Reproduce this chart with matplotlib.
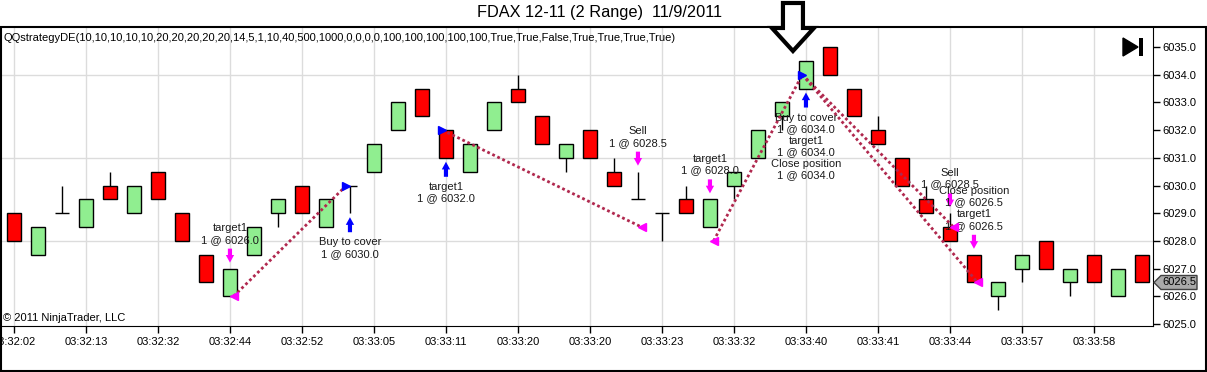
import matplotlib
matplotlib.use('Agg')
import matplotlib.pyplot as plt
from matplotlib.patches import Polygon, Rectangle
from matplotlib.transforms import offset_copy, IdentityTransform
import numpy as np

plt.rcParams['font.family'] = ['Liberation Sans', 'DejaVu Sans']

# --- data: FDAX 12-11, 2 range bars ---
opens  = [6029, 6027.5, 6029, 6028.5, 6030, 6029, 6030.5, 6029, 6027.5, 6026,
          6027.5, 6029, 6030, 6028.5, 6030, 6030.5, 6032, 6033.5, 6032, 6030.5,
          6032, 6033.5, 6032.5, 6031, 6032, 6030.5, 6029.5, 6029, 6029.5, 6028.5,
          6030, 6031, 6032.5, 6033.5, 6035, 6033.5, 6032, 6031, 6029.5, 6028.5,
          6027.5, 6026, 6027, 6028, 6026.5, 6027.5, 6026, 6027.5]
highs  = [6029, 6028.5, 6030, 6029.5, 6030.5, 6030, 6030.5, 6029, 6027.5, 6027,
          6028.5, 6029.5, 6030, 6029.5, 6030, 6031.5, 6033, 6033.5, 6032, 6031.5,
          6033, 6034, 6032.5, 6031.5, 6032, 6031, 6030.5, 6029, 6030, 6029.5,
          6030.5, 6032, 6033, 6034.5, 6035, 6033.5, 6032.5, 6031, 6030, 6029,
          6027.5, 6026.5, 6027.5, 6028, 6027, 6027.5, 6027, 6027.5]
lows   = [6028, 6027.5, 6029, 6028.5, 6029.5, 6029, 6029.5, 6028, 6026.5, 6026,
          6027.5, 6028.5, 6029, 6028.5, 6029, 6030.5, 6032, 6032.5, 6031, 6030.5,
          6032, 6033, 6031.5, 6030.5, 6031, 6030, 6029.5, 6028, 6029, 6028.5,
          6029.5, 6031, 6032, 6033.5, 6034, 6032.5, 6031.5, 6030, 6029, 6028,
          6026.5, 6025.5, 6026.5, 6027, 6026, 6026.5, 6026, 6026.5]
closes = [6028, 6028.5, 6029, 6029.5, 6029.5, 6030, 6029.5, 6028, 6026.5, 6027,
          6028.5, 6029.5, 6029, 6029.5, 6030, 6031.5, 6033, 6032.5, 6031, 6031.5,
          6033, 6033, 6031.5, 6031.5, 6031, 6030, 6029.5, 6029, 6029, 6029.5,
          6030.5, 6032, 6033, 6034.5, 6034, 6032.5, 6031.5, 6030, 6029, 6028,
          6026.5, 6026.5, 6027.5, 6027, 6027, 6026.5, 6027, 6026.5]

tick_labels = ['03:32:02', '03:32:13', '03:32:32', '03:32:44', '03:32:52', '03:33:05',
               '03:33:11', '03:33:20', '03:33:20', '03:33:23', '03:33:32', '03:33:40',
               '03:33:41', '03:33:44', '03:33:57', '03:33:58']

# executions
buy_bars = [14, 18, 33]
buy_prices = [6030.0, 6032.0, 6034.0]
buy_labels = ['Buy to cover\n1 @ 6030.0',
              'target1\n1 @ 6032.0',
              'Buy to cover\n1 @ 6034.0\ntarget1\n1 @ 6034.0\nClose position\n1 @ 6034.0']
sell_bars = [9, 26, 29, 39, 40]
sell_prices = [6026.0, 6028.5, 6028.0, 6028.5, 6026.5]
sell_labels = ['target1\n1 @ 6026.0',
               'Sell\n1 @ 6028.5',
               'target1\n1 @ 6028.0',
               'Sell\n1 @ 6028.5',
               'Close position\n1 @ 6026.5\ntarget1\n1 @ 6026.5']

# trade lines (entry -> exit)
line_bar0 = [9, 18, 29, 33, 33]
line_px0 = [6026.0, 6032.0, 6028.0, 6034.0, 6034.0]
line_bar1 = [14, 26, 33, 39, 40]
line_px1 = [6030.0, 6028.5, 6034.0, 6028.5, 6026.5]

title = 'FDAX 12-11 (2 Range)  11/9/2011'
strategy = ('QQstrategyDE(10,10,10,10,10,20,20,20,20,20,14,5,1,10,40,500,1000,0,0,0,0,'
            '100,100,100,100,100,True,True,False,True,True,True,True)')

W, H = 1207, 372
fig = plt.figure(figsize=(W / 100, H / 100), dpi=100)
ax = fig.add_axes([1 / W, 46 / H, 1152 / W, 299 / H])

x = np.arange(len(opens))
o = np.array(opens); c = np.array(closes)
up = c >= o
colors = np.where(up, '#90ee90', '#ff0000')

ax.vlines(x, lows, highs, color='black', lw=1, zorder=2)
ax.bar(x, c - o, bottom=o, width=0.58, color=colors, edgecolor='black', lw=1, zorder=3)

ax.set_xlim(-0.54, 47.46)
ax.set_ylim(6024.93, 6035.72)

# grid
for g in [6028, 6031, 6034]:
    ax.axhline(g, color='#dcdcdc', lw=1, zorder=0)
for t in x[::3]:
    ax.axvline(t, color='#dcdcdc', lw=1, zorder=0)

ax.set_xticks(x[::3])
ax.set_xticklabels(tick_labels)
ax.set_yticks(np.arange(6025, 6036, 1.0))
ax.yaxis.set_major_formatter(matplotlib.ticker.FormatStrFormatter('%.1f'))
ax.yaxis.tick_right()
ax.tick_params(axis='both', labelsize=8, length=5, width=1, direction='out', colors='black')
ax.tick_params(axis='x', pad=3)
ax.tick_params(axis='y', pad=2)
for s in ['top', 'left']:
    ax.spines[s].set_visible(False)

# trade lines
def mx(bar):
    return bar - 0.15 if bar in buy_bars else bar + 0.15

for b0, p0, b1, p1 in zip(line_bar0, line_px0, line_bar1, line_px1):
    ax.plot([mx(b0), mx(b1)], [p0, p1], color='#b0284e', lw=2, ls=(0, (1, 1)), zorder=4)

txt_kw = dict(fontsize=8, color='#1a1a1a', ha='center', multialignment='center', linespacing=1.2)
arrow_style = 'simple,head_length=0.55,head_width=0.6,tail_width=0.3'

for b, p, lab in zip(buy_bars, buy_prices, buy_labels):
    ax.plot(b - 0.15, p, marker='>', ms=5.5, color='#0000ff', ls='none', zorder=5)
    lo = lows[b]
    ax.annotate('', xy=(b, lo), xycoords=offset_copy(ax.transData, fig=fig, y=-4, units='dots'),
                xytext=(b, lo), textcoords=offset_copy(ax.transData, fig=fig, y=-19, units='dots'),
                arrowprops=dict(arrowstyle=arrow_style, fc='#0000ff', ec='none',
                                mutation_scale=10, shrinkA=0, shrinkB=0))
    ax.text(b, lo, lab, va='top', transform=offset_copy(ax.transData, fig=fig, y=-24, units='dots'),
            **txt_kw)

for b, p, lab in zip(sell_bars, sell_prices, sell_labels):
    ax.plot(b + 0.15, p, marker='<', ms=5.5, color='#ff00ff', ls='none', zorder=5)
    hi = highs[b]
    ax.annotate('', xy=(b, hi), xycoords=offset_copy(ax.transData, fig=fig, y=6, units='dots'),
                xytext=(b, hi), textcoords=offset_copy(ax.transData, fig=fig, y=20, units='dots'),
                arrowprops=dict(arrowstyle=arrow_style, fc='#ff00ff', ec='none',
                                mutation_scale=10, shrinkA=0, shrinkB=0))
    ax.text(b, hi, lab, va='bottom', transform=offset_copy(ax.transData, fig=fig, y=24, units='dots'),
            **txt_kw)

# texts
fig.text(599.5 / W, 1 - 13 / H, title, fontsize=11.8, ha='center', va='center')
ax.text(2 / 1152, 1 - 6 / 299, strategy, transform=ax.transAxes, fontsize=8, va='top', ha='left')
ax.text(2 / 1152, 3 / 299, '\u00a9 2011 NinjaTrader, LLC', transform=ax.transAxes, fontsize=8,
        va='bottom', ha='left')

# outer frame
fig.patches.append(Rectangle((0.5 / W, 1 / H), (W - 1.5) / W, 344 / H, transform=fig.transFigure,
                             fill=False, ec='black', lw=1.5))

# last price tag
fig.canvas.draw()
ly = ax.transData.transform((0, closes[-1]))[1]
tag = Polygon([(1154, ly), (1161, ly + 7), (1197, ly + 7), (1197, ly - 7), (1161, ly - 7)],
              closed=True, transform=IdentityTransform(), fc='#a9a9a9', ec='#404040', lw=1)
fig.patches.append(tag)
fig.text(1179, ly, '%.1f' % closes[-1], transform=IdentityTransform(), fontsize=8,
         ha='center', va='center')

# big hollow arrow above highlighted bar
cx = ax.transData.transform((33, 0))[0] - 13
hx = [cx - 10, cx + 10, cx + 10, cx + 21, cx, cx - 21, cx - 10]
hy = [3, 3, 28, 28, 51, 28, 28]
fig.patches.append(Polygon([(a, H - b) for a, b in zip(hx, hy)], closed=True,
                           transform=IdentityTransform(), fc='white', ec='black', lw=3))

# "go to end" icon
fig.patches.append(Polygon([(1123, H - 38), (1123, H - 56), (1138, H - 47)], closed=True,
                           transform=IdentityTransform(), fc='black', ec='black'))
fig.patches.append(Rectangle((1139, H - 56), 4, 18, transform=IdentityTransform(), fc='black'))

fig.savefig('out.png', dpi=100)
